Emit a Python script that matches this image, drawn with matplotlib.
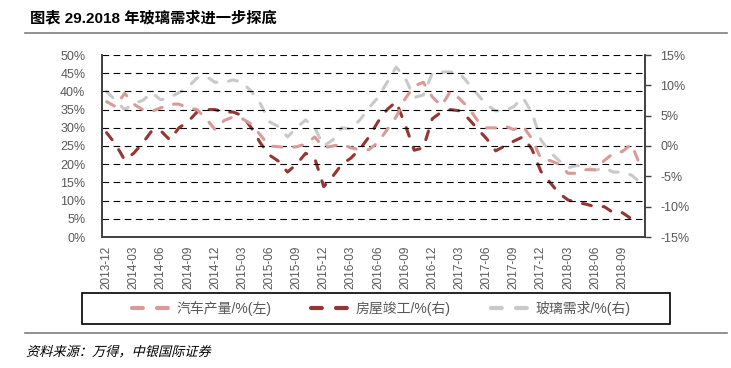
import numpy as np
import pandas as pd
import matplotlib
matplotlib.use("Agg")
import matplotlib.pyplot as plt
from matplotlib.lines import Line2D
from matplotlib.patches import Rectangle, PathPatch
from matplotlib.textpath import TextPath
from matplotlib.font_manager import FontProperties
from matplotlib.transforms import Affine2D

plt.rcParams['font.family'] = ['Liberation Sans', 'Noto Sans CJK SC', 'DejaVu Sans']

# months 2013-12 .. 2018-11
months = [p.strftime('%Y-%m') for p in pd.period_range('2013-12', '2018-11', freq='M')]

# 汽车产量 (left axis, %)
auto = [37.2, 35.8, 39.5, 36.5, 35.0, 34.5, 35.5, 36.5, 36.5, 35.5,
        35.0, 32.5, 29.5, 32.0, 33.0, 32.5, 31.0, 28.0, 25.0, 24.8,
        24.5, 24.8, 25.5, 27.5, 24.5, 25.0, 25.5, 24.5, 24.0, 24.0,
        26.0, 29.5, 33.0, 38.0, 41.5, 42.5, 38.5, 36.0, 40.0, 38.0,
        35.5, 32.0, 30.0, 30.0, 30.5, 29.5, 30.5, 27.0, 21.5, 21.0,
        20.0, 17.5, 17.5, 18.5, 18.5, 21.0, 23.0, 23.5, 25.5, 19.5]

# 房屋竣工 (right axis, %)
housing = [2.2, 0.3, -2.3, -1.2, 0.5, 2.5, 2.5, 1.0, 3.0, 4.0,
           5.6, 6.0, 6.0, 5.6, 5.6, 5.0, 3.0, 0.5, -1.5, -2.5,
           -4.3, -3.0, -1.2, -2.0, -6.7, -5.0, -3.0, -2.0, -0.5, 1.5,
           4.0, 6.0, 7.3, 3.5, -0.7, -0.3, 4.5, 5.6, 6.0, 5.8,
           4.5, 2.8, 1.2, -0.8, 0.0, 0.8, 1.5, -0.5, -4.2, -6.0,
           -7.8, -8.9, -9.3, -9.6, -10.0, -10.0, -11.0, -11.0, -12.0, -12.5]

# 玻璃需求 (right axis, %)
glass = [9.0, 7.5, 6.0, 7.0, 7.5, 8.8, 7.6, 8.0, 8.8, 9.7,
         11.2, 11.5, 10.5, 10.5, 10.9, 10.5, 9.0, 7.0, 4.0, 3.2,
         1.5, 3.0, 4.3, 3.0, 0.0, 1.0, 3.0, 2.8, 4.3, 6.3,
         8.0, 10.5, 13.0, 11.2, 8.0, 8.4, 12.0, 12.2, 12.2, 12.0,
         10.3, 8.5, 6.8, 5.8, 5.8, 6.5, 8.0, 5.5, 1.0, -1.0,
         -2.4, -3.6, -3.2, -3.6, -4.0, -3.6, -4.3, -4.3, -4.8, -6.0]

labels = ['汽车产量/%(左)', '房屋竣工/%(右)', '玻璃需求/%(右)']
c_auto, c_house, c_glass = '#DA9A98', '#953634', '#C9C9C9'
txt = '#595959'

W, H = 731, 368
fig = plt.figure(figsize=(W / 100, H / 100), dpi=100)
ax = fig.add_axes([102 / W, 1 - 237 / H, 543 / W, 182 / H])
ax2 = ax.twinx()

x = np.arange(len(months))
kw = dict(lw=2.2, ls=(0, (2.95, 3.9)), dash_capstyle='round', solid_capstyle='round')

# grid
for v in range(5, 55, 5):
    ax.axhline(v, color='black', lw=0.8, ls=(0, (6, 4)), zorder=0)

ax.plot(x, auto, color=c_auto, zorder=3, **kw)
ax2.plot(x, glass, color=c_glass, zorder=2, **kw)
ax2.plot(x, housing, color=c_house, zorder=3, **kw)

ax.set_xlim(-0.5, len(months) - 0.5)
ax.set_ylim(0, 50)
ax2.set_ylim(-15, 15)
ax.set_yticks(range(0, 55, 5))
ax.set_yticklabels([f'{v}%' for v in range(0, 55, 5)])
ax2.set_yticks(range(-15, 20, 5))
ax2.set_yticklabels([f'{v}%' for v in range(-15, 20, 5)])
ax.set_xticks(x[::3])
ax.set_xticklabels(months[::3], rotation=90)

ax.tick_params(axis='y', length=0, pad=12, labelsize=9, labelcolor=txt)
ax.tick_params(axis='x', length=0, pad=6, labelsize=8.5, labelcolor=txt)
ax2.tick_params(axis='y', length=4, width=1, color='#404040', pad=7, labelsize=9, labelcolor=txt)

for a in (ax, ax2):
    a.spines['top'].set_visible(False)
    for s in ('left', 'right', 'bottom'):
        a.spines[s].set_color('#404040')
        a.spines[s].set_linewidth(1.2)
ax.set_zorder(ax2.get_zorder() + 1)
ax.patch.set_visible(False)

# title + rules
fig.text(30 / W, 1 - 18 / H, '图表 29.2018 年玻璃需求进一步探底', fontsize=11,
         fontweight='bold', va='center', ha='left', color='black')
fig.add_artist(Line2D([25 / W, 0.995], [1 - 33 / H] * 2, color='#7f7f7f', lw=1.2))
fig.add_artist(Line2D([25 / W, 0.995], [1 - 333 / H] * 2, color='#7f7f7f', lw=1.2))

# footer in slanted CJK (no italic face available, so skew the glyph outlines)
fp = FontProperties(family='Noto Sans CJK SC', size=9.5)
tp = TextPath((0, 0), '资料来源：万得，中银国际证券', prop=fp)
tr = Affine2D().skew_deg(14, 0).scale(100 / 72).translate(26, H - 356)
fig.add_artist(PathPatch(tp, transform=tr, color='black', lw=0))

# legend: box + entries
fig.add_artist(Rectangle((82 / W, 1 - 324 / H), 588 / W, 31 / H, transform=fig.transFigure,
                         fill=False, edgecolor='black', lw=1.2))
handles = [Line2D([], [], color=c, lw=3, ls=(0, (2.6, 3.4)), dash_capstyle='round')
           for c in (c_auto, c_house, c_glass)]
leg = fig.legend(handles, labels, ncol=3, loc='center',
                 bbox_to_anchor=(381 / W, 1 - 308.5 / H),
                 frameon=False, fontsize=10, handlelength=2.75,
                 handletextpad=0.45, columnspacing=2.9, borderaxespad=0, borderpad=0)
for t in leg.get_texts():
    t.set_color(txt)

fig.savefig('out.png', dpi=100)
